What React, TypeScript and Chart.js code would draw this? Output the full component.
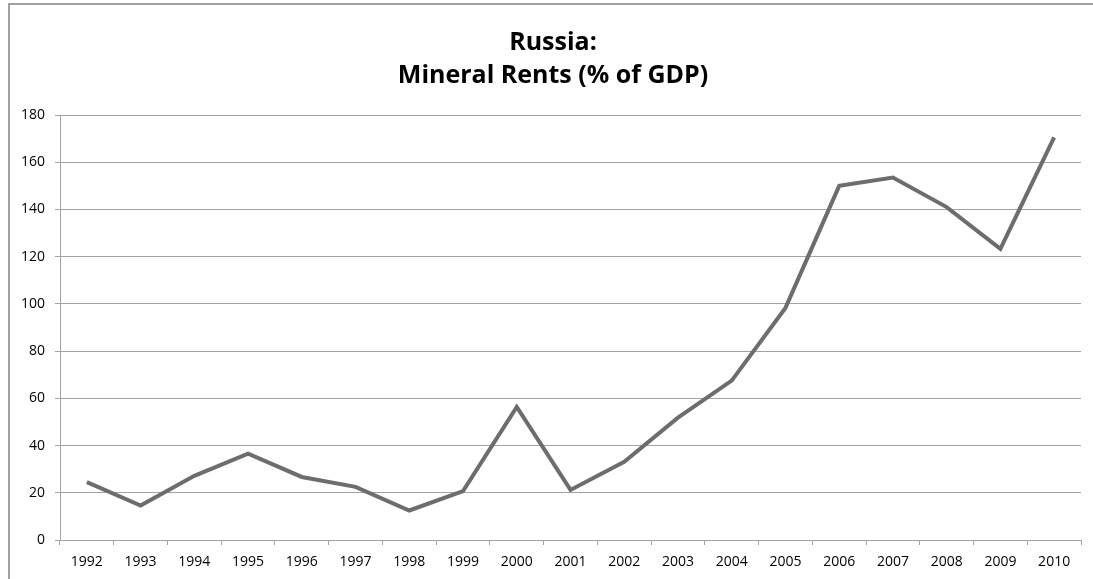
import React, { useEffect, useRef } from "react";
import { Chart, registerables } from "chart.js";

Chart.register(...registerables);

// Russia: mineral rents by year
const years: string[] = [
  "1992", "1993", "1994", "1995", "1996", "1997", "1998", "1999", "2000", "2001",
  "2002", "2003", "2004", "2005", "2006", "2007", "2008", "2009", "2010",
];
const mineralRents: number[] = [
  24.5, 14.6, 27.2, 36.6, 26.7, 22.5, 12.5, 20.7, 56.4, 21.2,
  33.1, 51.8, 67.5, 98.3, 150.0, 153.5, 141.0, 123.3, 170.5,
];
const titleLines: string[] = ["Russia:", "Mineral Rents (% of GDP)"];
const yTickValues: number[] = [0, 20, 40, 60, 80, 100, 120, 140, 160, 180];

const FONT = "'Open Sans', Lato, 'Noto Sans', sans-serif";
const GRID = "#a3a3a3";

// Draws the two-line bold heading above the plot.
const headingPlugin = {
  id: "heading",
  afterDraw(chart: Chart) {
    const ctx = chart.ctx;
    ctx.save();
    ctx.fillStyle = "#000";
    ctx.font = `bold 25px ${FONT}`;
    ctx.textAlign = "center";
    ctx.textBaseline = "alphabetic";
    const cx = 553;
    const baselines = [50, 83];
    titleLines.forEach((line, i) => ctx.fillText(line, cx, baselines[i]));
    ctx.restore();
  },
};

export default function App() {
  const canvasRef = useRef<HTMLCanvasElement | null>(null);

  useEffect(() => {
    if (!canvasRef.current) return;
    const chart = new Chart(canvasRef.current, {
      type: "line",
      data: {
        labels: years,
        datasets: [
          {
            data: mineralRents,
            borderColor: "#6d6d6d",
            borderWidth: 4,
            pointRadius: 0,
            tension: 0,
            fill: false,
          },
        ],
      },
      options: {
        animation: false,
        responsive: false,
        layout: { padding: { top: 115, right: 12, left: 0, bottom: 0 } },
        plugins: {
          legend: { display: false },
          title: { display: false },
          tooltip: { enabled: false },
        },
        scales: {
          x: {
            offset: true,
            grid: {
              offset: true,
              drawOnChartArea: false,
              drawTicks: true,
              tickLength: 5,
              color: GRID,
            },
            border: { color: GRID, width: 1 },
            ticks: {
              color: "#000",
              font: { family: FONT, size: 14 },
              padding: 9,
              maxRotation: 0,
              autoSkip: false,
            },
            afterFit(scale: any) {
              scale.height = 39;
            },
          },
          y: {
            min: 0,
            max: 180,
            afterBuildTicks(scale: any) {
              scale.ticks = yTickValues.map((v) => ({ value: v }));
            },
            grid: {
              color: GRID,
              lineWidth: 1,
              drawTicks: true,
              tickLength: 5,
            },
            border: { color: GRID, width: 1 },
            ticks: {
              color: "#000",
              font: { family: FONT, size: 14 },
              padding: 10,
            },
            afterFit(scale: any) {
              scale.width = 60;
            },
          },
        },
      },
      plugins: [headingPlugin],
    });
    return () => chart.destroy();
  }, []);

  return (
    <div
      style={{
        position: "fixed",
        left: 0,
        top: 0,
        width: 1093,
        height: 579,
        overflow: "hidden",
        background: "#fff",
      }}
    >
      <div
        style={{
          position: "absolute",
          left: 8,
          top: 3,
          width: 1100,
          height: 600,
          border: "2px solid #a0a0a0",
          boxSizing: "border-box",
        }}
      />
      <canvas
        ref={canvasRef}
        width={1093}
        height={579}
        style={{ position: "absolute", left: 0, top: 0 }}
      />
    </div>
  );
}
